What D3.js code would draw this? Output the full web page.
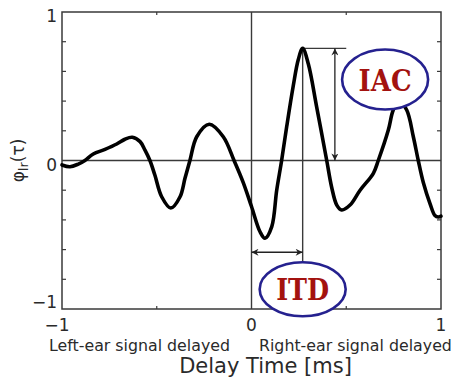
<!DOCTYPE html>
<html>
<head>
<meta charset="utf-8">
<script src="https://cdn.jsdelivr.net/npm/d3@7"></script>
<style>
  html, body { margin: 0; padding: 0; background: #fff; }
  svg { display: block; }
</style>
</head>
<body>
<svg id="chart" width="460" height="378"></svg>
<script>
// Interaural cross-correlation function φlr(τ) over delay time τ [ms]
const delay = [-1, -0.958, -0.914, -0.879, -0.835, -0.773, -0.711, -0.668, -0.629, -0.588,
  -0.562, -0.536, -0.51, -0.474, -0.426, -0.377, -0.351, -0.325, -0.289, -0.223,
  -0.149, -0.092, -0.043, 0, 0.045, 0.071, 0.107, 0.133, 0.159, 0.186,
  0.22, 0.247, 0.27, 0.30, 0.344, 0.397, 0.423, 0.45, 0.476, 0.52,
  0.573, 0.643, 0.669, 0.722, 0.748, 0.778, 0.819, 0.854, 0.88, 0.907,
  0.942, 0.968, 0.986, 1];
const phi = [-0.03, -0.042, -0.024, 0, 0.044, 0.075, 0.111, 0.143, 0.156, 0.127,
  0.07, 0, -0.098, -0.244, -0.32, -0.244, -0.12, 0, 0.16, 0.244,
  0.16, 0, -0.15, -0.31, -0.48, -0.524, -0.445, -0.2, 0, 0.23,
  0.50, 0.68, 0.755, 0.65, 0.36, 0, -0.18, -0.30, -0.333, -0.30,
  -0.2, -0.086, 0, 0.205, 0.34, 0.40, 0.34, 0.16, 0, -0.15,
  -0.29, -0.37, -0.38, -0.375];

const xTickLabels = [-1, 0, 1];
const yTickLabels = [-1, 0, 1];
const yMinorTicks = [-0.8, -0.6, -0.4, -0.2, 0.2, 0.4, 0.6, 0.8];
const xMinorTicks = [-0.5, 0.5];

// Annotation anchors (data units)
const itdDelay = 0.27;       // delay of the main peak
const iacValue = 0.755;      // main peak height
const itdArrowLevel = -0.618;
const iacArrowDelay = 0.44;
const iacLineEnd = 0.5;
const itdLabel = { text: "ITD", x: 0.27, y: -0.867 };
const iacLabel = { text: "IAC", x: 0.705, y: 0.545 };
const xLabels = ["Left-ear signal delayed", "Right-ear signal delayed"];
const xTitle = "Delay Time [ms]";

const svg = d3.select("#chart");
const margin = { left: 62, right: 19, top: 12, bottom: 69 };
const W = 460, H = 378;

const x = d3.scaleLinear().domain([-1, 1]).range([margin.left, W - margin.right]);
const y = d3.scaleLinear().domain([-1, 1]).range([H - margin.bottom, margin.top]);

const axisColor = "#3a3a3a";
const textColor = "#2a2a2a";
const font = "'DejaVu Sans', Verdana, sans-serif";

// Defs: arrow heads
const defs = svg.append("defs");
function marker(id, orient) {
  defs.append("marker")
    .attr("id", id)
    .attr("viewBox", "0 0 10 10")
    .attr("refX", 10).attr("refY", 5)
    .attr("markerWidth", 8).attr("markerHeight", 7)
    .attr("markerUnits", "userSpaceOnUse")
    .attr("orient", orient)
    .append("path")
    .attr("d", "M0,0 L10,5 L0,10 L3,5 Z")
    .attr("fill", "#222");
}
marker("arrowEnd", "auto");
marker("arrowStart", "auto-start-reverse");

// Zero reference lines
svg.append("line")
  .attr("x1", x(-1)).attr("x2", x(1))
  .attr("y1", y(0)).attr("y2", y(0))
  .attr("stroke", axisColor).attr("stroke-width", 1.4);
svg.append("line")
  .attr("x1", x(0)).attr("x2", x(0))
  .attr("y1", y(1)).attr("y2", y(-1))
  .attr("stroke", axisColor).attr("stroke-width", 1.4);

// Ticks (inward, on all four sides)
const tickLen = 4;
const tk = svg.append("g").attr("stroke", axisColor).attr("stroke-width", 1.2);
yMinorTicks.forEach(v => {
  tk.append("line").attr("x1", x(-1)).attr("x2", x(-1) + tickLen).attr("y1", y(v)).attr("y2", y(v));
  tk.append("line").attr("x1", x(1)).attr("x2", x(1) - tickLen).attr("y1", y(v)).attr("y2", y(v));
});
xMinorTicks.forEach(v => {
  tk.append("line").attr("x1", x(v)).attr("x2", x(v)).attr("y1", y(-1)).attr("y2", y(-1) - 3);
  tk.append("line").attr("x1", x(v)).attr("x2", x(v)).attr("y1", y(1)).attr("y2", y(1) + 3);
});

// Annotation lines behind the curve
svg.append("line")
  .attr("x1", x(itdDelay)).attr("x2", x(itdDelay))
  .attr("y1", y(iacValue)).attr("y2", y(itdLabel.y))
  .attr("stroke", axisColor).attr("stroke-width", 1.4);
svg.append("line")
  .attr("x1", x(itdDelay)).attr("x2", x(iacLineEnd))
  .attr("y1", y(iacValue)).attr("y2", y(iacValue))
  .attr("stroke", axisColor).attr("stroke-width", 1.4);
svg.append("line")
  .attr("x1", x(iacArrowDelay)).attr("x2", x(iacArrowDelay))
  .attr("y1", y(iacValue)).attr("y2", y(0))
  .attr("stroke", "#222").attr("stroke-width", 1.3)
  .attr("marker-start", "url(#arrowStart)")
  .attr("marker-end", "url(#arrowEnd)");
svg.append("line")
  .attr("x1", x(0)).attr("x2", x(itdDelay))
  .attr("y1", y(itdArrowLevel)).attr("y2", y(itdArrowLevel))
  .attr("stroke", "#222").attr("stroke-width", 1.3)
  .attr("marker-start", "url(#arrowStart)")
  .attr("marker-end", "url(#arrowEnd)");

// Frame
svg.append("rect")
  .attr("x", x(-1)).attr("y", y(1))
  .attr("width", x(1) - x(-1)).attr("height", y(-1) - y(1))
  .attr("fill", "none").attr("stroke", axisColor).attr("stroke-width", 1.5);

// Correlation curve
const line = d3.line()
  .x((d, i) => x(delay[i]))
  .y((d, i) => y(phi[i]))
  .curve(d3.curveCatmullRom.alpha(0.5));
svg.append("path")
  .datum(phi)
  .attr("d", line)
  .attr("fill", "none")
  .attr("stroke", "#000")
  .attr("stroke-width", 3.6)
  .attr("stroke-linejoin", "round")
  .attr("stroke-linecap", "round");

// Labelled ellipses
function bubble(lbl, rx, ry) {
  const g = svg.append("g");
  g.append("ellipse")
    .attr("cx", x(lbl.x)).attr("cy", y(lbl.y))
    .attr("rx", rx).attr("ry", ry)
    .attr("fill", "#fff").attr("stroke", "#25218f").attr("stroke-width", 2.6);
  g.append("text")
    .attr("x", x(lbl.x)).attr("y", y(lbl.y))
    .attr("dy", "0.37em")
    .attr("text-anchor", "middle")
    .attr("font-family", "'DejaVu Serif', 'Liberation Serif', serif")
    .attr("font-weight", "bold")
    .attr("font-size", 30)
    .attr("textLength", 53)
    .attr("lengthAdjust", "spacingAndGlyphs")
    .attr("fill", "#a3120f")
    .text(lbl.text);
}
bubble(itdLabel, 43, 27);
bubble(iacLabel, 43, 30);

// Tick labels
const fmt = v => (v < 0 ? "\u2212" : "") + Math.abs(v);
svg.append("g").selectAll("text").data(yTickLabels).join("text")
  .attr("x", x(-1) - 5)
  .attr("y", d => d === -1 ? y(d) - 1 : y(d) + 10)
  .attr("text-anchor", "end")
  .attr("font-family", font).attr("font-size", 17)
  .attr("fill", textColor)
  .text(fmt);
svg.append("g").selectAll("text").data(xTickLabels).join("text")
  .attr("x", d => x(d) + (d < 0 ? -5 : 0))
  .attr("y", y(-1) + 22)
  .attr("text-anchor", "middle")
  .attr("font-family", font).attr("font-size", 17)
  .attr("fill", textColor)
  .text(fmt);

// Side captions and axis title
svg.append("text")
  .attr("x", 49).attr("y", 351)
  .attr("font-family", font).attr("font-size", 15.8)
  .attr("fill", textColor).text(xLabels[0]);
svg.append("text")
  .attr("x", 259).attr("y", 351)
  .attr("font-family", font).attr("font-size", 15.8)
  .attr("fill", textColor).text(xLabels[1]);
svg.append("text")
  .attr("x", (179 + 352) / 2).attr("y", 373)
  .attr("text-anchor", "middle")
  .attr("font-family", font).attr("font-size", 21)
  .attr("fill", textColor).text(xTitle);

// Y axis label φlr(τ)
const yl = svg.append("text")
  .attr("transform", `translate(24,${y(0)}) rotate(-90)`)
  .attr("text-anchor", "middle")
  .attr("font-family", font).attr("font-size", 17)
  .attr("fill", textColor);
yl.append("tspan").text("\u03c6");
yl.append("tspan").attr("dy", 4).attr("font-size", 13).text("lr");
yl.append("tspan").attr("dy", -4).text("(\u03c4)");
</script>
</body>
</html>
